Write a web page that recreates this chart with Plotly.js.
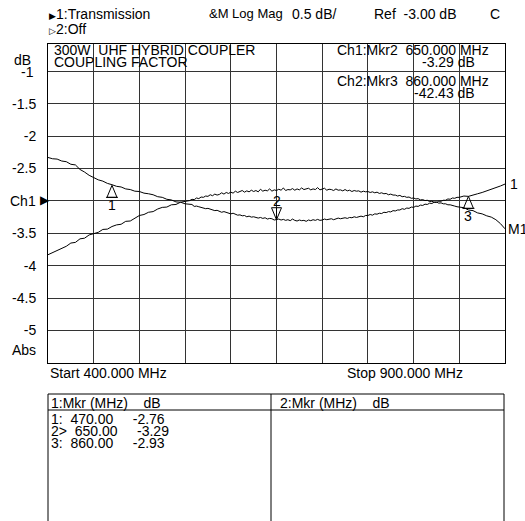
<!DOCTYPE html>
<html><head><meta charset="utf-8">
<script src="https://cdn.plot.ly/plotly-3.0.1.min.js"></script>
<style>html,body{margin:0;padding:0;background:#fff;overflow:hidden}#chart{width:525px;height:521px}</style>
</head><body><div id="chart"></div>
<script>
// ---------- data ----------
const freqMHz = [400,405,410,415,420,425,430,435,440,445,450,455,460,465,470,475,480,485,490,495,
  500,505,510,515,520,525,530,535,540,545,
  550,552.5,555,557.5,560,562.5,565,567.5,570,572.5,575,577.5,580,582.5,585,587.5,590,592.5,595,597.5,
  600,602.5,605,607.5,610,612.5,615,617.5,620,622.5,625,627.5,630,632.5,635,637.5,640,642.5,645,647.5,
  650,652.5,655,657.5,660,662.5,665,667.5,670,672.5,675,677.5,680,682.5,685,687.5,690,692.5,695,697.5,
  700,702.5,705,707.5,710,712.5,715,717.5,720,722.5,725,727.5,730,732.5,735,737.5,740,742.5,745,747.5,
  750,752.5,755,757.5,760,762.5,765,767.5,770,772.5,775,777.5,780,782.5,785,787.5,790,792.5,795,797.5,
  800,802.5,805,807.5,810,812.5,815,817.5,820,822.5,825,827.5,830,832.5,835,837.5,840,842.5,845,847.5,850,
  855,860,865,870,875,880,885,890,895,900];
// Trace 1 (data) - coupling factor, dB
const trace1Db = [-2.33,-2.35,-2.355,-2.385,-2.395,-2.435,-2.445,-2.515,-2.555,-2.605,
  -2.64,-2.675,-2.695,-2.73,-2.75,-2.775,-2.785,-2.815,-2.825,-2.85,
  -2.855,-2.88,-2.89,-2.905,-2.935,-2.945,-2.975,-2.985,-3.015,-3.02,
  -3.045,-3.05,-3.06,-3.055,-3.085,-3.08,-3.09,-3.10,-3.105,-3.12,-3.115,-3.13,-3.135,-3.15,-3.145,-3.155,-3.175,-3.165,-3.18,-3.185,
  -3.20,-3.19,-3.205,-3.22,-3.215,-3.23,-3.225,-3.245,-3.235,-3.25,-3.245,-3.26,-3.265,-3.255,-3.27,-3.26,-3.28,-3.27,-3.275,-3.295,
  -3.29,-3.28,-3.295,-3.285,-3.30,-3.29,-3.305,-3.28,-3.30,-3.31,-3.295,-3.305,-3.30,-3.315,-3.295,-3.305,-3.29,-3.30,-3.285,-3.30,
  -3.295,-3.28,-3.29,-3.285,-3.275,-3.29,-3.28,-3.265,-3.275,-3.27,-3.26,-3.27,-3.255,-3.26,-3.245,-3.255,-3.24,-3.235,-3.245,-3.225,
  -3.225,-3.21,-3.22,-3.20,-3.205,-3.19,-3.195,-3.175,-3.18,-3.165,-3.17,-3.15,-3.155,-3.14,-3.14,-3.12,-3.13,-3.11,-3.115,-3.095,
  -3.10,-3.08,-3.085,-3.065,-3.07,-3.05,-3.055,-3.035,-3.04,-3.02,-3.025,-3.005,-3.005,-2.99,-2.99,-2.97,-2.975,-2.955,-2.96,-2.945,-2.945,
  -2.925,-2.93,-2.905,-2.89,-2.87,-2.845,-2.83,-2.80,-2.77,-2.74];
// Memory trace M1, dB
const memory1Db = [-3.83,-3.80,-3.77,-3.73,-3.70,-3.65,-3.64,-3.585,-3.575,-3.525,
  -3.50,-3.485,-3.44,-3.435,-3.395,-3.37,-3.36,-3.315,-3.31,-3.27,
  -3.225,-3.21,-3.175,-3.165,-3.125,-3.10,-3.095,-3.06,-3.055,-3.02,
  -3.01,-3.00,-2.995,-2.975,-2.98,-2.955,-2.965,-2.94,-2.945,-2.925,-2.93,-2.905,-2.92,-2.895,-2.91,-2.90,-2.875,-2.895,-2.87,-2.885,
  -2.865,-2.88,-2.85,-2.87,-2.855,-2.84,-2.865,-2.845,-2.86,-2.835,-2.855,-2.84,-2.86,-2.82,-2.85,-2.835,-2.845,-2.815,-2.85,-2.83,
  -2.84,-2.82,-2.835,-2.80,-2.84,-2.825,-2.83,-2.81,-2.835,-2.815,-2.83,-2.80,-2.825,-2.82,-2.805,-2.83,-2.815,-2.825,-2.795,-2.83,
  -2.815,-2.805,-2.835,-2.82,-2.825,-2.84,-2.815,-2.835,-2.83,-2.845,-2.825,-2.845,-2.835,-2.855,-2.84,-2.85,-2.845,-2.865,-2.85,-2.86,
  -2.855,-2.87,-2.86,-2.875,-2.865,-2.885,-2.875,-2.89,-2.885,-2.905,-2.895,-2.91,-2.91,-2.925,-2.915,-2.935,-2.93,-2.945,-2.94,-2.96,
  -2.955,-2.97,-2.965,-2.985,-2.98,-2.995,-2.99,-3.01,-3.005,-3.02,-3.015,-3.035,-3.03,-3.045,-3.045,-3.06,-3.06,-3.075,-3.08,-3.09,-3.095,
  -3.105,-3.14,-3.15,-3.185,-3.20,-3.23,-3.25,-3.29,-3.35,-3.43];
const markerLabels = ['1','2','3'];
const markerPrefix = ['1:','2>','3:'];
const markerFreq = [470, 650, 860];
const markerDb = [-2.76, -3.29, -2.93];
const markerPointsDown = [false, true, false];
const yTickVals = [-1,-1.5,-2,-2.5,-3,-3.5,-4,-4.5,-5];
const yTickText = ['','-1.5','-2','-2.5','','-3.5','-4','-4.5','-5'];

// ---------- layout helpers ----------
const L=48, R=505, T=44, B=363;
const px = x => (x-L)/(R-L);
const py = y => (B-y)/(B-T);
const FONT = 'Liberation Sans, Arial, sans-serif';
const NB = '\u00a0';
function ann(text, x, y, xanchor, size) {
  return {text:text, xref:'paper', yref:'paper', x:px(x), y:py(y), xanchor:xanchor||'left',
    yanchor:'middle', showarrow:false, font:{family:FONT, size:size||14, color:'#000'}};
}
const fmt2 = v => v.toFixed(2);

const annotations = [
  ann('<span style="font-size:9px">\u25B6</span>1:Transmission', 47, 14),
  ann('&M'+NB+'Log'+NB+'Mag', 207, 14, 'left', 13),
  ann('0.5'+NB+'dB/', 290, 14),
  ann('Ref'+NB+NB+'-3.00'+NB+'dB', 372, 14),
  ann('C', 488, 14),
  ann('<span style="font-size:9px">\u25B7</span>2:Off', 47, 29),
  ann('300W'+NB+NB+'UHF'+NB+'HYBRID'+NB+'COUPLER', 52, 50),
  ann('COUPLING'+NB+'FACTOR', 52, 62),
  ann('Ch1:Mkr2'+NB+NB+'650.000'+NB+'MHz', 335, 50),
  ann('-3.29'+NB+'dB', 477, 62, 'right'),
  ann('Ch2:Mkr3'+NB+NB+'860.000'+NB+'MHz', 335, 81),
  ann('-42.43'+NB+'dB', 477, 93, 'right'),
  ann('dB', 22, 60, 'center'),
  ann('-1', 27, 72, 'center'),
  ann('Ch1', 38, 201, 'right'),
  ann('<span style="font-size:12px">\u25B6</span>', 38, 200),
  ann('Abs', 24, 350, 'center'),
  ann('Start'+NB+'400.000'+NB+'MHz', 48, 373),
  ann('Stop'+NB+'900.000'+NB+'MHz', 345, 373),
  ann('1', 508, 184),
  ann('M1', 506, 229),
  ann('1:Mkr'+NB+'(MHz)'+NB+NB+NB+NB+'dB', 49, 403),
  ann('2:Mkr'+NB+'(MHz)'+NB+NB+NB+NB+'dB', 278, 403)
];
const shapes = [];
for (let i=0;i<markerFreq.length;i++){
  annotations.push(ann(markerPrefix[i]+NB+NB+markerFreq[i].toFixed(2)+NB+NB+NB+NB+NB+fmt2(markerDb[i]), 49, 418.5+i*12));
  const down = markerPointsDown[i];
  annotations.push({text:markerLabels[i], xref:'x', yref:'y', x:markerFreq[i], y:markerDb[i],
    xanchor:'center', yanchor:'middle', yshift: down?19:-20, showarrow:false,
    font:{family:FONT,size:14,color:'#000'}});
  const h = down ? 12 : -12;
  shapes.push({type:'path', xref:'x', yref:'y', xsizemode:'pixel', ysizemode:'pixel',
    xanchor:markerFreq[i], yanchor:markerDb[i],
    path: down ? 'M0,0 L-5,'+h+' L5,'+h+' Z M0,0 L0,'+h
               : 'M0,0 L-5,'+h+' L5,'+h+' Z M-6,'+h+' L6,'+h,
    line:{color:'#000', width:1}, fillcolor:'rgba(0,0,0,0)'});
}
// marker table frame
shapes.push({type:'rect', xref:'paper', yref:'paper', x0:px(48), x1:px(504), y0:py(394), y1:py(540), line:{color:'#000',width:1}});
shapes.push({type:'line', xref:'paper', yref:'paper', x0:px(48), x1:px(504), y0:py(410), y1:py(410), line:{color:'#000',width:1}});
shapes.push({type:'line', xref:'paper', yref:'paper', x0:px(271), x1:px(271), y0:py(394), y1:py(540), line:{color:'#000',width:1}});

const traces = [
  {x:freqMHz, y:memory1Db, type:'scatter', mode:'lines', line:{color:'#000', width:1}, hoverinfo:'skip'},
  {x:freqMHz, y:trace1Db, type:'scatter', mode:'lines', line:{color:'#000', width:1}, hoverinfo:'skip'}
];
const layout = {
  width:525, height:521, showlegend:false,
  margin:{l:L, r:525-R, t:T, b:521-B, pad:0},
  paper_bgcolor:'#fff', plot_bgcolor:'#fff',
  font:{family:FONT, size:14, color:'#000'},
  xaxis:{range:[400,900], dtick:50, tick0:400, showticklabels:false, ticks:'',
    showgrid:true, gridcolor:'#333', gridwidth:1, zeroline:false,
    showline:true, mirror:true, linecolor:'#000', linewidth:1, fixedrange:true},
  yaxis:{range:[-5.5,-0.58], tickmode:'array', tickvals:yTickVals, ticktext:yTickText, ticks:'',
    ticklabelstandoff:8, showgrid:true, gridcolor:'#333', gridwidth:1, zeroline:false,
    showline:true, mirror:true, linecolor:'#000', linewidth:1, fixedrange:true,
    tickfont:{family:FONT,size:14,color:'#000'}},
  annotations:annotations, shapes:shapes
};
Plotly.newPlot('chart', traces, layout, {staticPlot:true, displayModeBar:false});
</script></body></html>
